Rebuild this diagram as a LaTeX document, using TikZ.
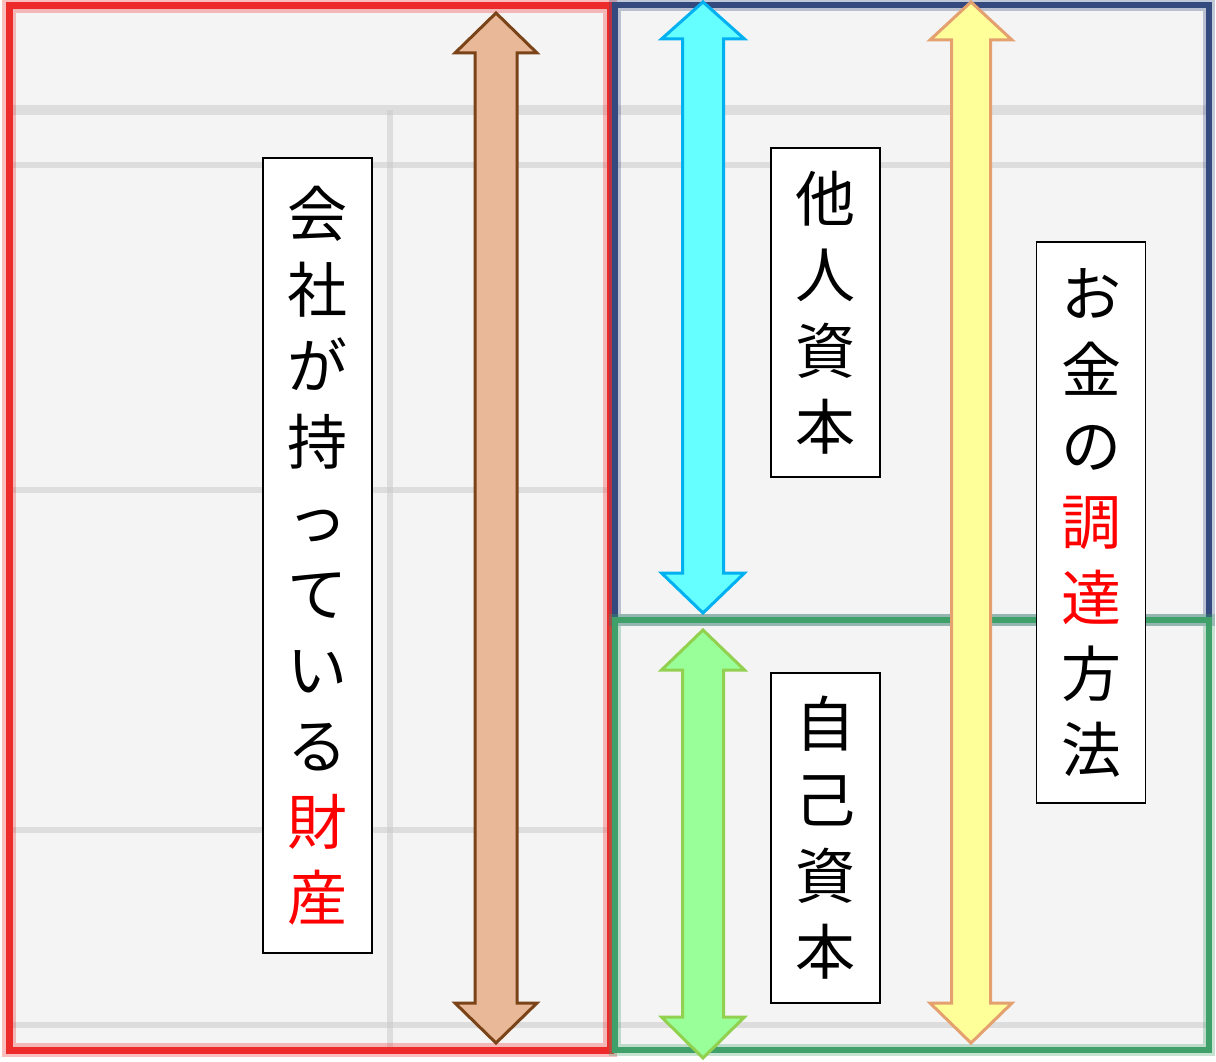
\documentclass[tikz,border=0pt]{standalone}
\usepackage{fontspec}
\newfontfamily\jp{Noto Sans CJK JP}
\definecolor{bgray}{HTML}{F4F4F4}
\definecolor{lgray}{HTML}{C8C8C8}
\definecolor{redframe}{HTML}{EE2B2B}
\definecolor{blueframe}{HTML}{34497E}
\definecolor{greenframe}{HTML}{3FA06A}
\definecolor{brownfill}{HTML}{E8B898}
\definecolor{brownline}{HTML}{7B4318}
\definecolor{cyanfill}{HTML}{66FFFF}
\definecolor{cyanline}{HTML}{00B0F0}
\definecolor{greenfill}{HTML}{99FF99}
\definecolor{greenline}{HTML}{92D050}
\definecolor{yellowfill}{HTML}{FFFF99}
\definecolor{yellowline}{HTML}{E4A06E}
\newcommand\dblarr[8]{%
  \draw[#8] (#1,#2) -- (#1+#7,#3) -- (#1+#6,#3) -- (#1+#6,#4) -- (#1+#7,#4)
    -- (#1,#5) -- (#1-#7,#4) -- (#1-#6,#4) -- (#1-#6,#3) -- (#1-#7,#3) -- cycle;}
\tikzset{
  tablerule/.style={lgray, line width=6pt, opacity=0.5},
  blockarrow/.style={line width=3pt, line join=miter, miter limit=10},
  vbox/.style={draw=black, line width=1.2pt, fill=white, align=center,
    font=\jp\fontsize{60}{76}\selectfont, inner sep=0pt},
}
\begin{document}
\begin{tikzpicture}[x=1pt,y=-1pt]
\useasboundingbox (0,0) rectangle (1216,1062);
\fill[white] (0,0) rectangle (1216,1062);
\fill[bgray] (6,3) rectangle (1211,1053);
% blurred table rules
\draw[tablerule, line width=10pt] (8,110) -- (1210,110);
\draw[tablerule] (8,165) -- (1210,165);
\draw[tablerule] (8,490) -- (612,490);
\draw[tablerule] (8,830) -- (612,830);
\draw[tablerule] (8,1025) -- (1210,1025);
\draw[tablerule] (390,110) -- (390,1050);
\draw[tablerule] (612,110) -- (612,1050);
% coloured frames
\draw[redframe, line width=14pt, opacity=0.3] (9,6) rectangle (610,1050);
\draw[redframe, line width=7pt] (9,6) rectangle (610,1050);
\draw[blueframe, line width=12pt, opacity=0.3] (615,5) rectangle (1209,620);
\draw[blueframe, line width=6pt] (615,5) rectangle (1209,620);
\draw[greenframe, line width=12pt, opacity=0.3] (615,620) rectangle (1209,1050);
\draw[greenframe, line width=6pt] (615,620) rectangle (1209,1050);
% double block arrows
\dblarr{496}{13}{53}{1003}{1043}{21}{41}{blockarrow, fill=brownfill, draw=brownline}
\dblarr{703}{2}{39}{573}{613}{20.5}{41.5}{blockarrow, fill=cyanfill, draw=cyanline}
\dblarr{703}{630}{670}{1017}{1058}{20.5}{41.5}{blockarrow, fill=greenfill, draw=greenline}
\dblarr{971}{2}{40}{1003}{1043}{19.5}{41}{blockarrow, fill=yellowfill, draw=yellowline}
% text boxes
\node[vbox, minimum width=109pt, minimum height=795pt] (assets) at (317.5,555.5)
  {会\\社\\が\\持\\っ\\て\\い\\る\\\textcolor{red}{財}\\\textcolor{red}{産}};
\node[vbox, minimum width=109pt, minimum height=329pt] (debt) at (825.5,312.5)
  {他\\人\\資\\本};
\node[vbox, minimum width=109pt, minimum height=330pt] (equity) at (825.5,838)
  {自\\己\\資\\本};
\node[vbox, minimum width=109pt, minimum height=561pt] (funding) at (1091,522.5)
  {お\\金\\の\\\textcolor{red}{調}\\\textcolor{red}{達}\\方\\法};
\end{tikzpicture}
\end{document}
